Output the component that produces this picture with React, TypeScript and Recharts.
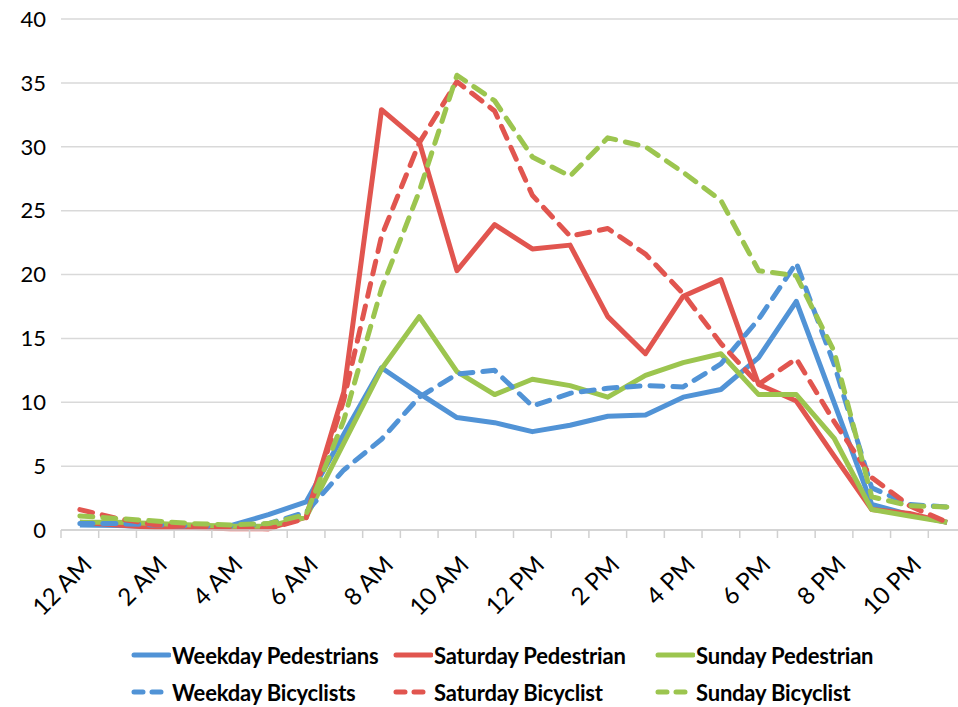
import React from "react";
import { LineChart, Line, XAxis, YAxis, CartesianGrid, Legend } from "recharts";

const hours = [0, 1, 2, 3, 4, 5, 6, 7, 8, 9, 10, 11, 12, 13, 14, 15, 16, 17, 18, 19, 20, 21, 22, 23];
const hourLabels: Record<number, string> = {
  0: "12 AM", 2: "2 AM", 4: "4 AM", 6: "6 AM", 8: "8 AM", 10: "10 AM",
  12: "12 PM", 14: "2 PM", 16: "4 PM", 18: "6 PM", 20: "8 PM", 22: "10 PM",
};
const yTicks = [0, 5, 10, 15, 20, 25, 30, 35, 40];

const weekdayPedestrians = [0.4, 0.35, 0.25, 0.2, 0.35, 1.2, 2.2, 7.5, 12.7, 10.7, 8.8, 8.4, 7.7, 8.2, 8.9, 9.0, 10.4, 11.0, 13.5, 17.9, 10.0, 2.0, 1.2, 0.6];
const saturdayPedestrian = [0.6, 0.4, 0.2, 0.2, 0.1, 0.1, 1.0, 10.8, 32.9, 30.4, 20.3, 23.9, 22.0, 22.3, 16.7, 13.8, 18.3, 19.6, 11.4, 10.1, 5.8, 1.6, 1.3, 0.6];
const sundayPedestrian = [0.6, 0.6, 0.5, 0.4, 0.3, 0.3, 1.0, 6.8, 12.6, 16.7, 12.4, 10.6, 11.8, 11.3, 10.4, 12.1, 13.1, 13.8, 10.6, 10.6, 7.2, 1.6, 1.1, 0.6];
const weekdayBicyclists = [0.5, 0.5, 0.4, 0.3, 0.3, 0.5, 1.4, 4.7, 7.1, 10.4, 12.2, 12.5, 9.7, 10.7, 11.1, 11.3, 11.2, 13.0, 16.5, 20.9, 13.0, 3.3, 2.0, 1.8];
const saturdayBicyclist = [1.6, 0.9, 0.4, 0.3, 0.2, 0.1, 0.9, 10.2, 23.0, 30.3, 35.1, 32.8, 26.2, 23.0, 23.6, 21.6, 18.5, 14.6, 11.4, 13.4, 8.5, 4.1, 1.9, 0.6];
const sundayBicyclist = [1.1, 0.9, 0.7, 0.5, 0.4, 0.5, 1.2, 8.6, 18.9, 26.5, 35.6, 33.6, 29.2, 27.7, 30.7, 30.0, 28.0, 25.8, 20.3, 19.9, 14.0, 2.6, 1.9, 1.8];

const BLUE = "#5193d6";
const RED = "#e1554f";
const GREEN = "#9cc54f";
const FONT = "Lato, 'Open Sans', sans-serif";

const series = [
  { key: "wp", name: "Weekday Pedestrians", color: BLUE, dashed: false },
  { key: "sp", name: "Saturday Pedestrian", color: RED, dashed: false },
  { key: "sup", name: "Sunday Pedestrian", color: GREEN, dashed: false },
  { key: "wb", name: "Weekday Bicyclists", color: BLUE, dashed: true },
  { key: "sb", name: "Saturday Bicyclist", color: RED, dashed: true },
  { key: "sub", name: "Sunday Bicyclist", color: GREEN, dashed: true },
];

const data = hours.map((h, i) => ({
  hour: h,
  wp: weekdayPedestrians[i],
  sp: saturdayPedestrian[i],
  sup: sundayPedestrian[i],
  wb: weekdayBicyclists[i],
  sb: saturdayBicyclist[i],
  sub: sundayBicyclist[i],
}));

const xTicks: number[] = [];
for (let k = 0; k <= 24; k++) xTicks.push(k - 0.5);
Object.keys(hourLabels).forEach((k) => xTicks.push(Number(k)));
xTicks.sort((a, b) => a - b);

const XTick = (props: any) => {
  const { x, y, payload } = props;
  const v = payload.value;
  if (!Number.isInteger(v)) {
    return <line x1={x} x2={x} y1={y} y2={y + 8} stroke="#d0d0d0" strokeWidth={1.5} />;
  }
  const label = hourLabels[v];
  if (!label) return null;
  const ax = x + 9;
  const ay = y + 32;
  return (
    <text
      x={ax}
      y={ay}
      textAnchor="end"
      dominantBaseline="middle"
      transform={`rotate(-45, ${ax}, ${ay})`}
      fontFamily={FONT}
      fontSize={24}
      fill="#000"
    >
      {label}
    </text>
  );
};

const LegendContent = () => {
  return (
    <div style={{ position: "relative", width: 958, height: 87 }}>
      {series.map((s, i) => {
        const row = Math.floor(i / 3);
        const col = i % 3;
        return (
          <div
            key={s.key}
            style={{
              position: "absolute",
              left: 131 + col * 262,
              top: 35 + row * 37 - 14,
              height: 28,
              display: "flex",
              alignItems: "center",
              fontFamily: FONT,
              fontWeight: 700,
              fontSize: 22,
              color: "#000",
              whiteSpace: "nowrap",
              letterSpacing: -0.2,
            }}
          >
            <svg width={40} height={10} style={{ marginRight: 1 }}>
              <line
                x1={3}
                x2={38}
                y1={5}
                y2={5}
                stroke={s.color}
                strokeWidth={5}
                strokeLinecap="round"
                strokeDasharray={s.dashed ? "9 9" : undefined}
              />
            </svg>
            <span>{s.name}</span>
          </div>
        );
      })}
    </div>
  );
};

export default function App() {
  return (
    <div style={{ position: "absolute", left: 0, top: 0, width: 958, height: 707, overflow: "hidden", background: "#fff" }}>
      <LineChart width={980} height={707} data={data} margin={{ top: 19, right: 14, bottom: 0, left: 0 }}>
        <CartesianGrid horizontal vertical={false} stroke="#d9d9d9" strokeWidth={1.5} />
        <XAxis
          dataKey="hour"
          type="number"
          domain={[-0.5, 23.5]}
          ticks={xTicks}
          interval={0}
          tick={<XTick />}
          tickLine={false}
          tickSize={0}
          tickMargin={0}
          axisLine={{ stroke: "#d0d0d0", strokeWidth: 1.5 }}
          height={90}
        />
        <YAxis
          domain={[0, 40]}
          ticks={yTicks}
          interval={0}
          axisLine={false}
          tickLine={false}
          width={61}
          tickMargin={9}
          tick={{ fontFamily: FONT, fontSize: 22, fill: "#000" }}
        />
        {series.map((s) => (
          <Line
            key={s.key}
            dataKey={s.key}
            name={s.name}
            stroke={s.color}
            strokeWidth={5}
            strokeDasharray={s.dashed ? "13 10" : undefined}
            strokeLinecap={s.dashed ? "round" : "butt"}
            strokeLinejoin="round"
            dot={false}
            isAnimationActive={false}
          />
        ))}
        <Legend verticalAlign="bottom" height={87} content={<LegendContent />} wrapperStyle={{ left: 0, bottom: 0, width: 958 }} />
      </LineChart>
    </div>
  );
}
